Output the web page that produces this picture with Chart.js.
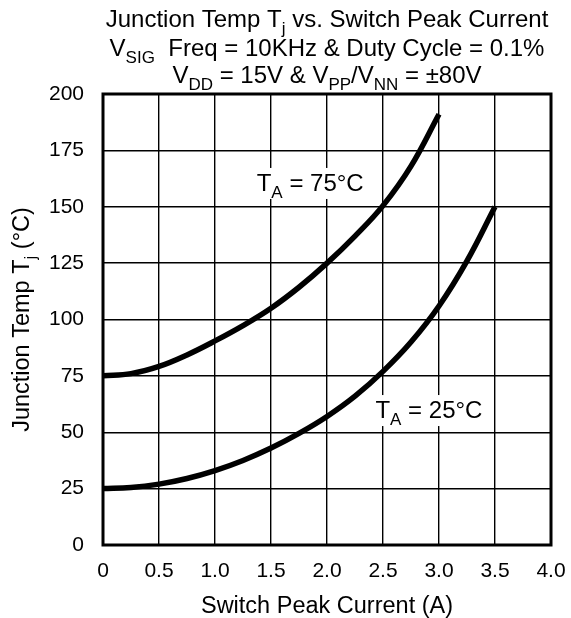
<!DOCTYPE html>
<html>
<head>
<meta charset="utf-8">
<script src="https://cdn.jsdelivr.net/npm/chart.js@4.4.0/dist/chart.umd.min.js"></script>
<style>
  html, body { margin: 0; padding: 0; background: #fff; }
  #wrap { width: 571px; height: 618px; }
</style>
</head>
<body>
<div id="wrap"><canvas id="tjChart"></canvas></div>
<script>
// values
const currentA = [0, 0.25, 0.5, 0.75, 1.0, 1.25, 1.5, 1.75, 2.0, 2.25, 2.5, 2.75, 3.0, 3.25, 3.5];
const tj75 = [75, 76, 79.2, 84.3, 90.5, 97.3, 105, 114.3, 125, 137, 150.5, 168, 191];
const tj25 = [25, 25.5, 27, 29.5, 33, 37.5, 43, 49.5, 57, 66, 77, 90, 106, 126, 150];
const xTicks = [0, 0.5, 1.0, 1.5, 2.0, 2.5, 3.0, 3.5, 4.0];
const yTicks = [0, 25, 50, 75, 100, 125, 150, 175, 200];

const FONT = 'Liberation Sans, Arial, Helvetica, sans-serif';
const TEXT_SIZE = 24;

function toPoints(ys) {
    return ys.map((y, i) => ({ x: currentA[i], y: y }));
}

function measureRich(ctx, parts, size) {
    const subSize = Math.round(size * 0.72);
    let total = 0;
    parts.forEach(p => {
        ctx.font = (p.sub ? subSize : size) + 'px ' + FONT;
        total += ctx.measureText(p.t).width;
    });
    return total;
}

// draws text made of normal + subscript pieces, centred on cx
function richText(ctx, parts, cx, baseY, size, rotate) {
    const subSize = Math.round(size * 0.72);
    const total = measureRich(ctx, parts, size);
    ctx.save();
    ctx.fillStyle = '#000';
    ctx.textBaseline = 'alphabetic';
    ctx.textAlign = 'left';
    if (rotate) {
        ctx.translate(cx, baseY);
        ctx.rotate(-Math.PI / 2);
        cx = 0; baseY = 0;
    }
    let x = cx - total / 2;
    parts.forEach(p => {
        ctx.font = (p.sub ? subSize : size) + 'px ' + FONT;
        ctx.fillText(p.t, x, baseY + (p.sub ? size * 0.3 : 0));
        x += ctx.measureText(p.t).width;
    });
    ctx.restore();
}

const curveLabels = [
    { x: 1.85, y: 157, parts: [{ t: 'T' }, { t: 'A', sub: true }, { t: ' = 75°C' }] },
    { x: 2.91, y: 56.3, parts: [{ t: 'T' }, { t: 'A', sub: true }, { t: ' = 25°C' }] }
];

const decorPlugin = {
    id: 'decor',
    afterDatasetsDraw(chart) {
        const ctx = chart.ctx;
        const area = chart.chartArea;
        const xs = chart.scales.x, ys = chart.scales.y;

        // frame
        ctx.save();
        ctx.strokeStyle = '#000';
        ctx.lineWidth = 3;
        ctx.strokeRect(area.left, area.top, area.right - area.left, area.bottom - area.top);
        ctx.restore();

        // curve labels on a white box
        curveLabels.forEach(l => {
            const cx = xs.getPixelForValue(l.x);
            const cy = ys.getPixelForValue(l.y);
            const tw = measureRich(ctx, l.parts, TEXT_SIZE);
            ctx.save();
            ctx.fillStyle = '#fff';
            ctx.fillRect(cx - tw / 2 - 4, cy - 23, tw + 8, 31);
            ctx.restore();
            richText(ctx, l.parts, cx, cy, TEXT_SIZE);
        });
    },
    afterDraw(chart) {
        const ctx = chart.ctx;
        const area = chart.chartArea;
        const mid = (area.left + area.right) / 2;

        richText(ctx, [{ t: 'Junction Temp T' }, { t: 'j', sub: true }, { t: ' vs. Switch Peak Current' }], mid, 27, TEXT_SIZE);
        richText(ctx, [{ t: 'V' }, { t: 'SIG', sub: true }, { t: '  Freq = 10KHz & Duty Cycle = 0.1%' }], mid, 55.5, TEXT_SIZE);
        richText(ctx, [{ t: 'V' }, { t: 'DD', sub: true }, { t: ' = 15V & V' }, { t: 'PP', sub: true }, { t: '/V' }, { t: 'NN', sub: true }, { t: ' = ±80V' }], mid, 83, TEXT_SIZE);

        richText(ctx, [{ t: 'Switch Peak Current (A)' }], mid, 613, 23.5);
        richText(ctx, [{ t: 'Junction Temp T' }, { t: 'j', sub: true }, { t: ' (°C)' }], 29, (area.top + area.bottom) / 2, 23.5, true);
    }
};

new Chart(document.getElementById('tjChart'), {
    type: 'line',
    data: {
        datasets: [
            {
                label: 'TA = 75°C',
                data: toPoints(tj75),
                borderColor: '#000',
                borderWidth: 5.5,
                pointRadius: 0,
                tension: 0.4,
                fill: false
            },
            {
                label: 'TA = 25°C',
                data: toPoints(tj25),
                borderColor: '#000',
                borderWidth: 5.5,
                pointRadius: 0,
                tension: 0.4,
                fill: false
            }
        ]
    },
    options: {
        responsive: true,
        maintainAspectRatio: false,
        animation: false,
        layout: { padding: { top: 94, right: 20, left: 0, bottom: 0 } },
        plugins: {
            legend: { display: false },
            tooltip: { enabled: false },
            title: { display: false }
        },
        scales: {
            x: {
                type: 'linear',
                min: 0,
                max: 4,
                afterFit: s => { s.height = 73; s.paddingLeft = 0; s.paddingRight = 0; },
                afterBuildTicks: s => { s.ticks = xTicks.map(v => ({ value: v })); },
                ticks: {
                    color: '#000',
                    padding: 14,
                    font: { family: FONT, size: 21 },
                    callback: v => v === 0 ? '0' : v.toFixed(1)
                },
                grid: { color: '#000', lineWidth: 1.4, drawTicks: false },
                border: { display: false }
            },
            y: {
                type: 'linear',
                min: 0,
                max: 200,
                afterFit: s => { s.width = 103; s.paddingTop = 0; s.paddingBottom = 0; },
                afterBuildTicks: s => { s.ticks = yTicks.map(v => ({ value: v })); },
                ticks: {
                    color: '#000',
                    padding: 19,
                    font: { family: FONT, size: 21 }
                },
                grid: { color: '#000', lineWidth: 1.4, drawTicks: false },
                border: { display: false }
            }
        }
    },
    plugins: [decorPlugin]
});
</script>
</body>
</html>
